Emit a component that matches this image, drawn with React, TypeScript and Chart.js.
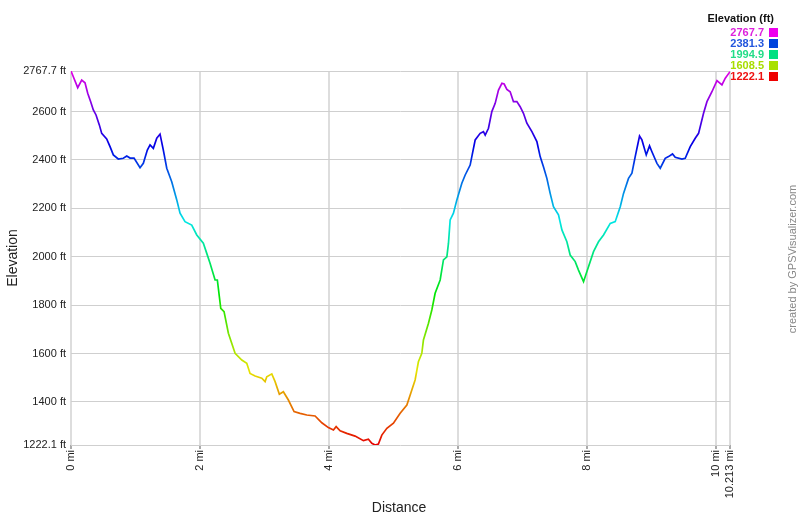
import React, { useEffect, useRef } from "react";
import { Chart, registerables } from "chart.js";

Chart.register(...registerables);

const distanceMi = [
  0, 0.036, 0.104, 0.166, 0.217, 0.259, 0.305, 0.346, 0.388, 0.439, 0.476, 0.553, 0.605, 0.656, 0.733,
  0.811, 0.864, 0.915, 0.977, 1.07, 1.121, 1.183, 1.225, 1.276, 1.329, 1.38, 1.431, 1.484, 1.561, 1.639,
  1.69, 1.767, 1.871, 1.949, 2.051, 2.104, 2.155, 2.233, 2.268, 2.321, 2.372, 2.439, 2.543, 2.647, 2.724,
  2.775, 2.853, 2.957, 3.008, 3.034, 3.112, 3.163, 3.229, 3.291, 3.369, 3.457, 3.55, 3.654, 3.783, 3.887,
  3.989, 4.067, 4.109, 4.171, 4.274, 4.403, 4.532, 4.609, 4.662, 4.713, 4.764, 4.817, 4.895, 4.997, 5.101,
  5.205, 5.282, 5.333, 5.384, 5.437, 5.462, 5.54, 5.592, 5.643, 5.721, 5.772, 5.825, 5.85, 5.876, 5.927,
  5.98, 6.057, 6.109, 6.186, 6.212, 6.264, 6.341, 6.392, 6.419, 6.47, 6.522, 6.574, 6.625, 6.678, 6.713,
  6.755, 6.806, 6.857, 6.91, 6.961, 7.012, 7.065, 7.143, 7.22, 7.271, 7.322, 7.375, 7.426, 7.477, 7.555,
  7.608, 7.685, 7.736, 7.814, 7.865, 7.943, 8.02, 8.098, 8.175, 8.253, 8.357, 8.434, 8.512, 8.563, 8.64,
  8.693, 8.744, 8.811, 8.848, 8.915, 8.966, 9.003, 9.081, 9.132, 9.209, 9.26, 9.322, 9.364, 9.468, 9.519,
  9.597, 9.674, 9.726, 9.803, 9.856, 9.933, 10.011, 10.088, 10.14, 10.213,
];

const elevationFt = [
  2767.7, 2744, 2699, 2730, 2719, 2676, 2641, 2607, 2586, 2545, 2510, 2487, 2455, 2421, 2404,
  2407, 2416, 2408, 2408, 2368, 2386, 2441, 2462, 2448, 2490, 2507, 2441, 2366, 2310, 2235,
  2180, 2145, 2131, 2090, 2056, 2014, 1973, 1904, 1904, 1787, 1773, 1684, 1601, 1573, 1560,
  1518, 1507, 1498, 1484, 1504, 1516, 1484, 1432, 1442, 1408, 1360, 1353, 1346, 1342, 1314,
  1294, 1284, 1298, 1281, 1270, 1259, 1240, 1246, 1229, 1222.1, 1226, 1263, 1291, 1312, 1353,
  1387, 1449, 1491, 1566, 1601, 1656, 1725, 1780, 1849, 1904, 1987, 2000, 2056, 2152, 2180,
  2235, 2304, 2338, 2379, 2414, 2483, 2510, 2517, 2503, 2531, 2600, 2634, 2689, 2717, 2714,
  2692, 2682, 2641, 2641, 2620, 2593, 2552, 2517, 2476, 2414, 2372, 2324, 2262, 2207, 2173,
  2111, 2062, 2007, 1980, 1945, 1897, 1959, 2021, 2062, 2090, 2138, 2145, 2207, 2262, 2324,
  2345, 2414, 2499, 2483, 2421, 2458, 2434, 2386, 2366, 2407, 2414, 2425, 2411, 2404, 2407,
  2455, 2490, 2510, 2593, 2641, 2682, 2728, 2710, 2738, 2765,
];

const yTickValues = [1222.1, 1400, 1600, 1800, 2000, 2200, 2400, 2600, 2767.7];
const xTickValues = [0, 2, 4, 6, 8, 10, 10.213];

const legendTitle = "Elevation (ft)";
const legendValues = ["2767.7", "2381.3", "1994.9", "1608.5", "1222.1"];
const legendTextColors = ["#dd22dd", "#2255dd", "#22dd88", "#a8dd00", "#ee1111"];
const legendBoxColors = ["#ee00ee", "#0044dd", "#00e080", "#a8e000", "#ee0000"];

const yTitle = "Elevation";
const xTitle = "Distance";
const creditText = "created by GPSVisualizer.com";

const FONT = "Arial, 'Liberation Sans', sans-serif";

const textPlugin = {
  id: "gpsTexts",
  afterDraw(chart: any) {
    const c = chart.ctx as CanvasRenderingContext2D;
    c.save();
    c.fillStyle = "#222";
    c.font = `14px ${FONT}`;
    c.textAlign = "center";
    c.textBaseline = "middle";
    c.save();
    c.translate(13, 258);
    c.rotate(-Math.PI / 2);
    c.fillText(yTitle, 0, 0);
    c.restore();
    c.fillText(xTitle, 399, 508);

    c.save();
    c.fillStyle = "#888";
    c.font = `11px ${FONT}`;
    c.translate(793, 259);
    c.rotate(-Math.PI / 2);
    c.fillText(creditText, 0, 0);
    c.restore();

    c.font = `bold 11px ${FONT}`;
    c.textAlign = "right";
    c.fillStyle = "#111";
    c.fillText(legendTitle, 774, 19);
    legendValues.forEach((v, i) => {
      const y = 33 + i * 11;
      c.fillStyle = legendTextColors[i];
      c.fillText(v, 764, y);
      c.fillStyle = legendBoxColors[i];
      c.fillRect(769, y - 5, 9, 9);
    });
    c.restore();
  },
};

function lineGradient(ctx: any) {
  const chart = ctx.chart;
  const a = chart.chartArea;
  if (!a) return "#0000ee";
  const g = chart.ctx.createLinearGradient(0, a.bottom, 0, a.top);
  for (let h = 0; h <= 300; h += 15) {
    g.addColorStop(h / 300, `hsl(${h}, 100%, 45%)`);
  }
  return g;
}

export default function App() {
  const ref = useRef<HTMLCanvasElement | null>(null);
  useEffect(() => {
    document.body.style.margin = "0";
    const canvas = ref.current!;
    const chart = new Chart(canvas, {
      type: "line",
      data: {
        datasets: [
          {
            data: distanceMi.map((d, i) => ({ x: d, y: elevationFt[i] })),
            borderColor: lineGradient,
            borderWidth: 1.7,
            pointRadius: 0,
            tension: 0,
            fill: false,
          },
        ],
      },
      options: {
        responsive: false,
        animation: false,
        layout: { padding: { left: 0, top: 71, right: 70, bottom: 0 } },
        plugins: { legend: { display: false }, tooltip: { enabled: false } },
        scales: {
          x: {
            type: "linear",
            min: 0,
            max: 10.213,
            afterFit: (s: any) => {
              s.height = 72;
            },
            afterBuildTicks: (s: any) => {
              s.ticks = xTickValues.map((v) => ({ value: v }));
            },
            border: { display: false },
            grid: { color: "#dddddd", lineWidth: 2, drawTicks: true, tickLength: 4, tickColor: "#aaa" },
            ticks: {
              autoSkip: false,
              maxRotation: 90,
              minRotation: 90,
              padding: 1,
              color: "#222",
              font: { family: FONT, size: 11 },
              callback: (v: any) => `${v} mi`,
            },
          },
          y: {
            type: "linear",
            min: 1222.1,
            max: 2767.7,
            afterFit: (s: any) => {
              s.width = 71;
            },
            afterBuildTicks: (s: any) => {
              s.ticks = yTickValues.map((v) => ({ value: v }));
            },
            border: { display: false },
            grid: { color: "#cfcfcf", lineWidth: 1, drawTicks: false },
            ticks: {
              padding: 5,
              color: "#222",
              font: { family: FONT, size: 11 },
              callback: (v: any) => `${v} ft`,
            },
          },
        },
      },
      plugins: [textPlugin],
    });
    return () => chart.destroy();
  }, []);
  return (
    <div style={{ position: "absolute", left: 0, top: 0, width: 800, height: 517, background: "#fff" }}>
      <canvas ref={ref} width={800} height={517} style={{ display: "block", width: 800, height: 517 }} />
    </div>
  );
}
